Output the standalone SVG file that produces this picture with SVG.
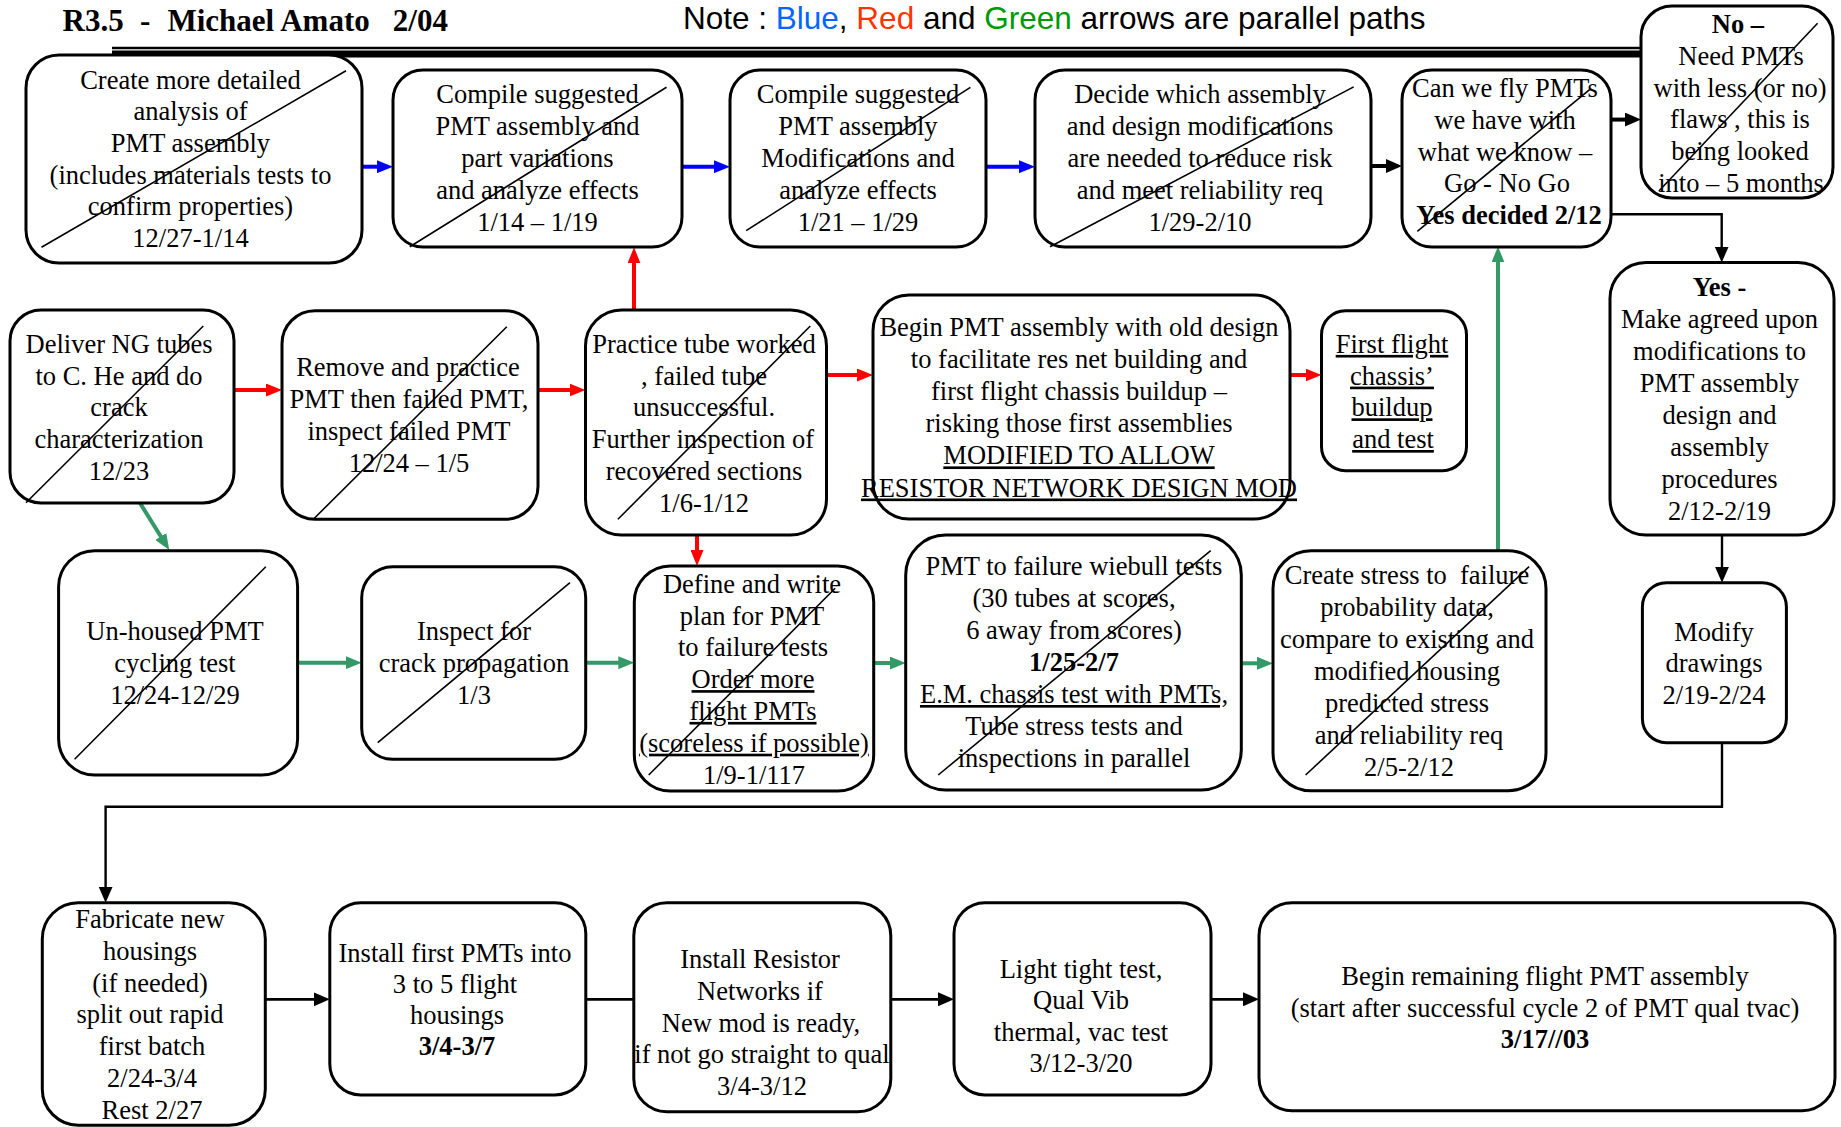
<svg xmlns="http://www.w3.org/2000/svg" width="1841" height="1127" viewBox="0 0 1841 1127">
<style>
.box{fill:#fff;stroke:#000;stroke-width:3}
.x{stroke:#000;stroke-width:1.6;fill:none}
.t{font-family:"Liberation Serif","Times New Roman",serif;font-size:26.5px;text-anchor:middle;fill:#000}
.b{font-weight:bold}
.u{text-decoration:underline}
.blue{stroke:#0000ff;stroke-width:4;fill:none;marker-end:url(#mBlue)}
.red{stroke:#ff0000;stroke-width:4;fill:none;marker-end:url(#mRed)}
.green{stroke:#339966;stroke-width:4;fill:none;marker-end:url(#mGreen)}
.blk{stroke:#000;stroke-width:4;fill:none;marker-end:url(#mBlack)}
.thin{stroke:#000;stroke-width:2.4;fill:none}
.thinA{stroke:#000;stroke-width:2.4;fill:none;marker-end:url(#mThin)}
.med{stroke:#000;stroke-width:2.8;fill:none}
.medA{stroke:#000;stroke-width:2.8;fill:none;marker-end:url(#mThin)}
</style>
<defs>
<marker id="mBlue" markerUnits="userSpaceOnUse" markerWidth="16" markerHeight="13" refX="1" refY="6.5" orient="auto"><path d="M0,0 L16,6.5 L0,13 z" fill="#0000ff"/></marker>
<marker id="mRed" markerUnits="userSpaceOnUse" markerWidth="16" markerHeight="13" refX="1" refY="6.5" orient="auto"><path d="M0,0 L16,6.5 L0,13 z" fill="#ff0000"/></marker>
<marker id="mGreen" markerUnits="userSpaceOnUse" markerWidth="16" markerHeight="13" refX="1" refY="6.5" orient="auto"><path d="M0,0 L16,6.5 L0,13 z" fill="#339966"/></marker>
<marker id="mBlack" markerUnits="userSpaceOnUse" markerWidth="16" markerHeight="14" refX="1" refY="7" orient="auto"><path d="M0,0 L16,7 L0,14 z" fill="#000"/></marker>
<marker id="mThin" markerUnits="userSpaceOnUse" markerWidth="16" markerHeight="14" refX="1" refY="7" orient="auto"><path d="M0,0 L16,7 L0,14 z" fill="#000"/></marker>
</defs>
<rect width="1841" height="1127" fill="#fff"/>

<g id="header">
<text y="30.5" style="font-family:'Liberation Serif','Times New Roman',serif;font-size:31px;font-weight:bold"><tspan x="62.5">R3.5</tspan><tspan x="140">-</tspan><tspan x="167.4">Michael Amato</tspan><tspan x="392.8">2/04</tspan></text>
<text x="683" y="29" style="font-family:'Liberation Sans',Arial,sans-serif;font-size:31.5px" xml:space="preserve">Note : <tspan fill="#0066ff">Blue</tspan>, <tspan fill="#ff3300">Red</tspan> and <tspan fill="#009900">Green</tspan> arrows are parallel paths</text>
<line x1="112" y1="48" x2="1642" y2="48" stroke="#000" stroke-width="2.5"/>
<line x1="112" y1="54" x2="1642" y2="54" stroke="#000" stroke-width="7"/>
</g>

<g id="connectors">
<line class="blue" x1="362" y1="166.7" x2="378" y2="166.7"/>
<line class="blue" x1="682" y1="166.7" x2="715" y2="166.7"/>
<line class="blue" x1="986" y1="166.7" x2="1020" y2="166.7"/>
<line class="blk" x1="1371" y1="166" x2="1387" y2="166"/>
<line class="blk" x1="1611" y1="119.6" x2="1626" y2="119.6"/>
<path class="thinA" d="M1611,214.3 H1721.7 V247.5"/>
<line class="red" x1="234" y1="390" x2="267" y2="390"/>
<line class="red" x1="538" y1="390" x2="570.5" y2="390"/>
<line class="red" x1="634" y1="310" x2="634" y2="262.3"/>
<line class="red" x1="697" y1="535" x2="697" y2="551"/>
<line class="red" x1="826.6" y1="375" x2="858" y2="375"/>
<line class="red" x1="1290" y1="375" x2="1306.5" y2="375"/>
<line class="green" x1="139.8" y1="502.7" x2="161.3" y2="537.3"/>
<line class="green" x1="297.4" y1="662.7" x2="346.7" y2="662.7"/>
<line class="green" x1="585.5" y1="662.7" x2="619.3" y2="662.7"/>
<line class="green" x1="873.7" y1="663" x2="890.7" y2="663"/>
<line class="green" x1="1241.3" y1="663.3" x2="1258" y2="663.3"/>
<line class="green" x1="1498" y1="550.7" x2="1498" y2="261.4"/>
<line class="thinA" x1="1722" y1="535" x2="1722" y2="567.7"/>
<path class="thinA" d="M1722,742.7 V806.7 H105.6 V887.7"/>
<line class="medA" x1="265.3" y1="999.3" x2="314.8" y2="999.3"/>
<line class="med" x1="585.7" y1="999.3" x2="633.8" y2="999.3"/>
<line class="medA" x1="890.8" y1="999.3" x2="939" y2="999.3"/>
<line class="medA" x1="1210.9" y1="999.3" x2="1244" y2="999.3"/>
</g>

<g id="n-create-analysis">
<rect class="box" x="26" y="55" width="336" height="208" rx="33"/>
<text class="t"><tspan x="190.5" y="88.5">Create more detailed</tspan><tspan x="190.5" dy="31.7">analysis of</tspan><tspan x="190.5" dy="31.7">PMT assembly</tspan><tspan x="190.5" dy="31.7">(includes materials tests to</tspan><tspan x="190.5" dy="31.7">confirm properties)</tspan><tspan x="190.5" dy="31.7">12/27-1/14</tspan></text>
<line class="x" x1="41.5" y1="247.3" x2="346" y2="70.7"/>
</g>

<g id="n-compile-1">
<rect class="box" x="393" y="70" width="289" height="177" rx="30"/>
<text class="t"><tspan x="537.5" y="103.3">Compile suggested</tspan><tspan x="537.5" dy="32">PMT assembly and</tspan><tspan x="537.5" dy="32">part variations</tspan><tspan x="537.5" dy="32">and analyze effects</tspan><tspan x="537.5" dy="32">1/14 – 1/19</tspan></text>
<line class="x" x1="409.8" y1="246.7" x2="666.5" y2="87.3"/>
</g>

<g id="n-compile-2">
<rect class="box" x="730" y="70" width="256" height="177" rx="30"/>
<text class="t"><tspan x="858" y="103.3">Compile suggested</tspan><tspan x="858" dy="32">PMT assembly</tspan><tspan x="858" dy="32">Modifications and</tspan><tspan x="858" dy="32">analyze effects</tspan><tspan x="858" dy="32">1/21 – 1/29</tspan></text>
<line class="x" x1="746.2" y1="230.7" x2="970.4" y2="87.3"/>
</g>

<g id="n-decide">
<rect class="box" x="1035" y="70" width="336" height="177" rx="30"/>
<text class="t"><tspan x="1200" y="103.3">Decide which assembly</tspan><tspan x="1200" dy="32">and design modifications</tspan><tspan x="1200" dy="32">are needed to reduce risk</tspan><tspan x="1200" dy="32">and meet reliability req</tspan><tspan x="1200" dy="32">1/29-2/10</tspan></text>
<line class="x" x1="1050" y1="246.7" x2="1353.7" y2="86.9"/>
</g>

<g id="n-gonogo">
<rect class="box" x="1402" y="70" width="209" height="177" rx="30"/>
<text class="t"><tspan x="1505" y="97">Can we fly PMTs</tspan><tspan x="1505" dy="31.8">we have with</tspan><tspan x="1505" dy="31.8">what we know –</tspan><tspan x="1507" dy="31.8">Go - No Go</tspan><tspan x="1509" dy="31.8" class="b">Yes decided 2/12</tspan></text>
<line class="x" x1="1417.3" y1="231.4" x2="1589.9" y2="89.3"/>
</g>

<g id="n-no">
<rect class="box" x="1641" y="6" width="192" height="192" rx="31"/>
<text class="t"><tspan x="1738" y="32.9" class="b">No –</tspan><tspan x="1741" dy="31.8">Need PMTs</tspan><tspan x="1740" dy="31.8">with less (or no)</tspan><tspan x="1740" dy="31.8">flaws , this is</tspan><tspan x="1740" dy="31.8">being looked</tspan><tspan x="1741" dy="31.8">into – 5 months</tspan></text>
<line class="x" x1="1658.9" y1="191" x2="1817.6" y2="23.2"/>
</g>

<g id="n-yes">
<rect class="box" x="1610" y="262.5" width="224" height="272.5" rx="36"/>
<text class="t"><tspan x="1719.5" y="296.4" class="b">Yes -</tspan><tspan x="1719.5" dy="31.9">Make agreed upon</tspan><tspan x="1719.5" dy="31.9">modifications to</tspan><tspan x="1719.5" dy="31.9">PMT assembly</tspan><tspan x="1719.5" dy="31.9">design and</tspan><tspan x="1719.5" dy="31.9">assembly</tspan><tspan x="1719.5" dy="31.9">procedures</tspan><tspan x="1719.5" dy="31.9">2/12-2/19</tspan></text>
</g>

<g id="n-deliver">
<rect class="box" x="10" y="310" width="224" height="193" rx="31"/>
<text class="t"><tspan x="119" y="352.7">Deliver NG tubes</tspan><tspan x="119" dy="31.8">to C. He and do</tspan><tspan x="119" dy="31.8">crack</tspan><tspan x="119" dy="31.8">characterization</tspan><tspan x="119" dy="31.8">12/23</tspan></text>
<line class="x" x1="26" y1="502.7" x2="203.3" y2="326"/>
</g>

<g id="n-remove">
<rect class="box" x="282" y="310.7" width="256" height="208.6" rx="33"/>
<text class="t"><tspan x="408" y="376">Remove and practice</tspan><tspan x="409" dy="31.9">PMT then failed PMT,</tspan><tspan x="409" dy="31.9">inspect failed PMT</tspan><tspan x="409" dy="31.9">12/24 – 1/5</tspan></text>
<line class="x" x1="313.3" y1="519.3" x2="506.8" y2="326.7"/>
</g>

<g id="n-practice">
<rect class="box" x="585.5" y="310" width="241" height="225" rx="36"/>
<text class="t"><tspan x="704" y="352.7">Practice tube worked</tspan><tspan x="704" dy="31.8">, failed tube</tspan><tspan x="704" dy="31.8">unsuccessful.</tspan><tspan x="703" dy="31.8">Further inspection of</tspan><tspan x="704" dy="31.8">recovered sections</tspan><tspan x="704" dy="31.8">1/6-1/12</tspan></text>
<line class="x" x1="617.9" y1="519.3" x2="810.3" y2="326"/>
</g>

<g id="n-begin-old">
<rect class="box" x="873" y="295" width="417" height="224" rx="36"/>
<text class="t"><tspan x="1079" y="336">Begin PMT assembly with old design</tspan><tspan x="1079" dy="32.1">to facilitate res net building and</tspan><tspan x="1079" dy="32.1">first flight chassis buildup –</tspan><tspan x="1079" dy="32.1">risking those first assemblies</tspan><tspan x="1079" dy="32.1" class="u">MODIFIED TO ALLOW</tspan><tspan x="1079" dy="32.1" class="u">RESISTOR NETWORK DESIGN MOD</tspan></text>
</g>

<g id="n-first-flight">
<rect class="box" x="1321.5" y="310.7" width="145" height="160" rx="24"/>
<text class="t u"><tspan x="1392" y="352.9">First flight</tspan><tspan x="1392" dy="31.7">chassis’</tspan><tspan x="1392" dy="31.7">buildup</tspan><tspan x="1393" dy="31.7">and test</tspan></text>
</g>

<g id="n-unhoused">
<rect class="box" x="58.6" y="550.7" width="239" height="224.3" rx="36"/>
<text class="t"><tspan x="175" y="640">Un-housed PMT</tspan><tspan x="175" dy="32">cycling test</tspan><tspan x="175" dy="32">12/24-12/29</tspan></text>
<line class="x" x1="74.6" y1="759.3" x2="265.8" y2="566.7"/>
</g>

<g id="n-inspect">
<rect class="box" x="361.7" y="566.7" width="224" height="192.6" rx="31"/>
<text class="t"><tspan x="474" y="640">Inspect for</tspan><tspan x="474" dy="32">crack propagation</tspan><tspan x="474" dy="32">1/3</tspan></text>
<line class="x" x1="377.7" y1="742.7" x2="570" y2="582.7"/>
</g>

<g id="n-define">
<rect class="box" x="634.3" y="566" width="239.4" height="225" rx="36"/>
<text class="t"><tspan x="752" y="592.7">Define and write</tspan><tspan x="752" dy="31.8">plan for PMT</tspan><tspan x="753" dy="31.8">to failure tests</tspan><tspan x="753" dy="31.8" class="u">Order more</tspan><tspan x="753" dy="31.8" class="u">flight PMTs</tspan><tspan x="754" dy="31.8" class="u">(scoreless if possible)</tspan><tspan x="754" dy="31.8">1/9-1/117</tspan></text>
<line class="x" x1="648.7" y1="775" x2="835.2" y2="588.3"/>
</g>

<g id="n-wiebull">
<rect class="box" x="905.7" y="535" width="335.6" height="255" rx="40"/>
<text class="t"><tspan x="1074" y="575">PMT to failure wiebull tests</tspan><tspan x="1074" dy="32">(30 tubes at scores,</tspan><tspan x="1074" dy="32">6 away from scores)</tspan><tspan x="1074" dy="32" class="b">1/25-2/7</tspan><tspan x="1074" dy="32" class="u">E.M. chassis test with PMTs,</tspan><tspan x="1074" dy="32">Tube stress tests and</tspan><tspan x="1074" dy="32">inspections in parallel</tspan></text>
<line class="x" x1="938.2" y1="775" x2="1210.7" y2="550.7"/>
</g>

<g id="n-stress">
<rect class="box" x="1273" y="550.7" width="273" height="240" rx="38"/>
<text class="t" xml:space="preserve"><tspan x="1407" y="584">Create stress to  failure</tspan><tspan x="1407" dy="32">probability data,</tspan><tspan x="1407" dy="32">compare to existing and</tspan><tspan x="1407" dy="32">modified housing</tspan><tspan x="1407" dy="32">predicted stress</tspan><tspan x="1409" dy="32">and reliability req</tspan><tspan x="1409" dy="32">2/5-2/12</tspan></text>
<line class="x" x1="1305.6" y1="775" x2="1529.1" y2="566.7"/>
</g>

<g id="n-modify">
<rect class="box" x="1642.4" y="582.7" width="144" height="160" rx="24"/>
<text class="t"><tspan x="1714" y="640.7">Modify</tspan><tspan x="1714" dy="31.7">drawings</tspan><tspan x="1714" dy="31.7">2/19-2/24</tspan></text>
</g>

<g id="n-fabricate">
<rect class="box" x="42.3" y="902.7" width="223" height="222.5" rx="36"/>
<text class="t"><tspan x="150" y="928.3">Fabricate new</tspan><tspan x="150" dy="31.7">housings</tspan><tspan x="150" dy="31.7">(if needed)</tspan><tspan x="150" dy="31.7">split out rapid</tspan><tspan x="152" dy="31.7">first batch</tspan><tspan x="152" dy="31.7">2/24-3/4</tspan><tspan x="152" dy="31.7">Rest 2/27</tspan></text>
</g>

<g id="n-install-first">
<rect class="box" x="329.8" y="902.7" width="256" height="192.3" rx="31"/>
<text class="t"><tspan x="455" y="961.7">Install first PMTs into</tspan><tspan x="455" dy="31.1">3 to 5 flight</tspan><tspan x="457" dy="31.1">housings</tspan><tspan x="457" dy="31.1" class="b">3/4-3/7</tspan></text>
</g>

<g id="n-install-resistor">
<rect class="box" x="633.8" y="902.7" width="257" height="209" rx="33"/>
<text class="t"><tspan x="760" y="968.3">Install Resistor</tspan><tspan x="760" dy="31.7">Networks if</tspan><tspan x="761" dy="31.7">New mod is ready,</tspan><tspan x="762" dy="31.7">if not go straight to qual</tspan><tspan x="762" dy="31.7">3/4-3/12</tspan></text>
</g>

<g id="n-light">
<rect class="box" x="954" y="902.7" width="257" height="192.3" rx="31"/>
<text class="t"><tspan x="1081" y="978.3">Light tight test,</tspan><tspan x="1081" dy="31.1">Qual Vib</tspan><tspan x="1081" dy="31.1">thermal, vac test</tspan><tspan x="1081" dy="31.1">3/12-3/20</tspan></text>
</g>

<g id="n-begin-remaining">
<rect class="box" x="1259" y="902.7" width="576" height="208" rx="33"/>
<text class="t"><tspan x="1545" y="985">Begin remaining flight PMT assembly</tspan><tspan x="1545" dy="31.7">(start after successful cycle 2 of PMT qual tvac)</tspan><tspan x="1545" dy="31.7" class="b">3/17//03</tspan></text>
</g>
</svg>
